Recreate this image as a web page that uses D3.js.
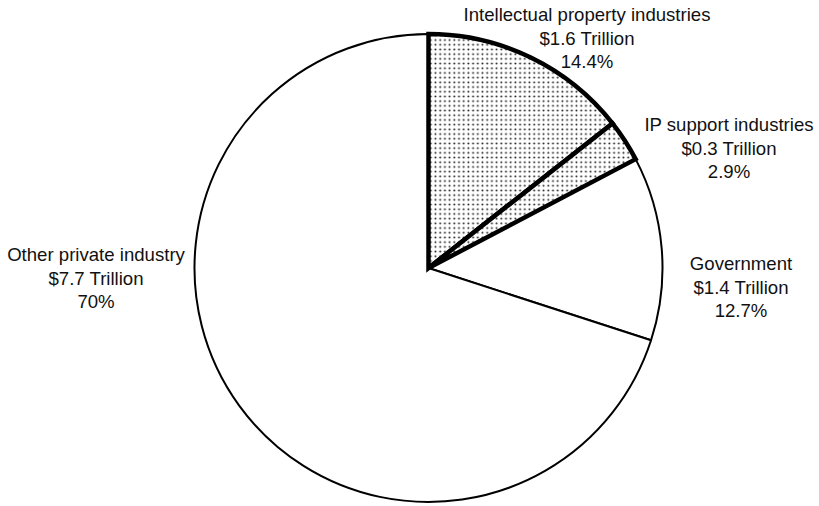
<!DOCTYPE html>
<html><head><meta charset="utf-8">
<script src="https://cdn.jsdelivr.net/npm/d3@7"></script>
<style>body{margin:0;background:#fff}</style>
</head><body>
<svg id="chart" width="819" height="506"></svg>
<script>
const categories = ["Intellectual property industries", "IP support industries", "Government", "Other private industry"];
const values = [1.6, 0.3, 1.4, 7.7];
const percents = [14.4, 2.9, 12.7, 70];
const valueLabels = ["$1.6 Trillion", "$0.3 Trillion", "$1.4 Trillion", "$7.7 Trillion"];
const percentLabels = ["14.4%", "2.9%", "12.7%", "70%"];
const hatched = [true, true, false, false];

const svg = d3.select("#chart");
const cx = 428.5, cy = 268, R = 234;

const defs = svg.append("defs");
const pat = defs.append("pattern").attr("id","dots").attr("patternUnits","userSpaceOnUse")
  .attr("width",4.7).attr("height",4.7);
pat.append("rect").attr("width",4.7).attr("height",4.7).attr("fill","#fff");
pat.append("circle").attr("cx",2.3).attr("cy",2.3).attr("r",1.0).attr("fill","#222");

const data = categories.map((c,i)=>({c, v:percents[i], i}));
const pie = d3.pie().sort(null).value(d=>d.v);
const arcs = pie(data);
const arc = d3.arc().innerRadius(0).outerRadius(R);

const g = svg.append("g").attr("transform",`translate(${cx},${cy})`);
g.selectAll("path.plain").data(arcs.filter(a=>!hatched[a.data.i])).join("path")
  .attr("d",arc).attr("fill","#fff").attr("stroke","#000").attr("stroke-width",2).attr("stroke-linejoin","round");
g.selectAll("path.hatch").data(arcs.filter(a=>hatched[a.data.i])).join("path")
  .attr("d",arc).attr("fill","url(#dots)").attr("stroke","#000").attr("stroke-width",4.5).attr("stroke-linejoin","miter");

const labelPos = [[587,14.5],[729,124.5],[741,263.5],[96,254.5]];
const lh = 23.5;
categories.forEach((c,i)=>{
  const t = svg.append("text").attr("text-anchor","middle")
    .attr("font-family","Liberation Sans, Arial, sans-serif").attr("font-size",18.6).attr("fill","#111");
  [c, valueLabels[i], percentLabels[i]].forEach((s,k)=>{
    t.append("tspan").attr("x",labelPos[i][0]).attr("y",labelPos[i][1]+6.5+k*lh).text(s);
  });
});
</script>
</body></html>
